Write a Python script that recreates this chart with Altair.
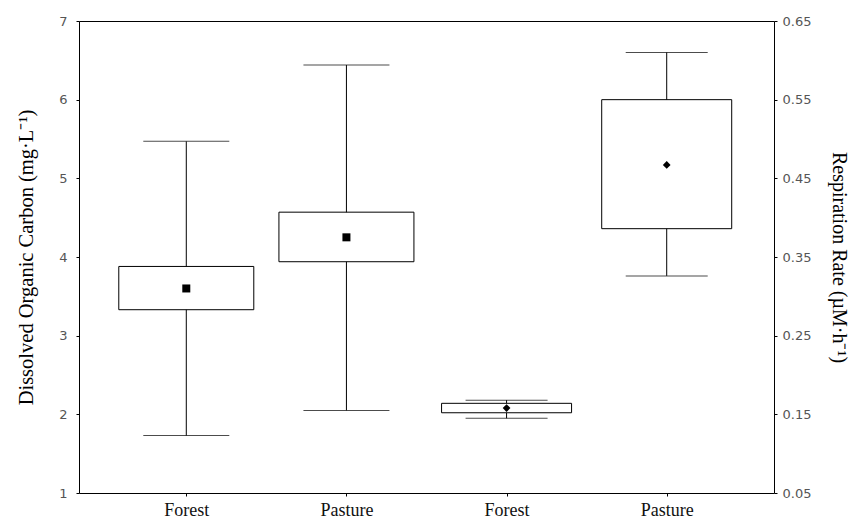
import altair as alt
import pandas as pd

# ---- data ----
categories = ["Forest", "Pasture"]

doc_whisker_low = [1.73, 2.05]
doc_box_low = [3.33, 3.94]
doc_mean = [3.60, 4.25]
doc_box_high = [3.88, 4.57]
doc_whisker_high = [5.47, 6.44]

resp_whisker_low = [0.145, 0.326]
resp_box_low = [0.152, 0.386]
resp_mean = [0.158, 0.467]
resp_box_high = [0.164, 0.550]
resp_whisker_high = [0.168, 0.610]

left_ticks = [1, 2, 3, 4, 5, 6, 7]
right_ticks = [0.05, 0.15, 0.25, 0.35, 0.45, 0.55, 0.65]

doc_keys = [c + " DOC" for c in categories]
resp_keys = [c + " Resp" for c in categories]
order = doc_keys + resp_keys

doc = pd.DataFrame({"key": doc_keys, "wlo": doc_whisker_low, "qlo": doc_box_low,
                    "mean": doc_mean, "qhi": doc_box_high, "whi": doc_whisker_high})
resp = pd.DataFrame({"key": resp_keys, "wlo": resp_whisker_low, "qlo": resp_box_low,
                     "mean": resp_mean, "qhi": resp_box_high, "whi": resp_whisker_high})

SERIF = "Liberation Serif"
SANS = "DejaVu Sans"

x_enc = alt.X("key:N", sort=order,
              scale=alt.Scale(type="point", padding=0.67, domain=order),
              axis=alt.Axis(title=None, labelExpr="split(datum.label, ' ')[0]",
                            labelAngle=0, labelFont=SERIF, labelFontSize=18,
                            labelColor="#111", tickSize=3, labelPadding=5,
                            domain=False, tickColor="black"))

left_axis = alt.Axis(title="Dissolved Organic Carbon  (mg·L⁻¹)", values=left_ticks,
                     orient="left", tickSize=3, labelPadding=9, labelFont=SANS,
                     labelFontSize=13, labelColor="#555", titleFont=SERIF,
                     titleFontSize=20.5, titleFontWeight="normal", titleColor="black",
                     titlePadding=22, domain=False, grid=False, tickColor="black")
right_axis = alt.Axis(title="Respiration Rate (µM·h⁻¹)", values=right_ticks, format=".2f",
                      orient="right", tickSize=3, labelPadding=5, labelFont=SANS,
                      labelFontSize=13, labelColor="#555", titleFont=SERIF,
                      titleFontSize=20, titleFontWeight="normal", titleColor="black",
                      titlePadding=18, domain=False, grid=False, tickColor="black")

left_scale = alt.Scale(domain=[1, 7], nice=False, zero=False)
right_scale = alt.Scale(domain=[0.05, 0.65], nice=False, zero=False)


def box_layers(df, scale, axis, box_w, cap_w, shape, msize):
    base = alt.Chart(df)
    whisk = base.mark_rule(color="black", strokeWidth=1).encode(
        x=x_enc, y=alt.Y("wlo:Q", scale=scale, axis=axis), y2="whi:Q")
    box = base.mark_bar(size=box_w, fill="white", stroke="black", strokeWidth=1).encode(
        x=x_enc, y=alt.Y("qlo:Q", scale=scale, axis=axis), y2="qhi:Q")
    cap_lo = base.mark_tick(size=cap_w, thickness=1, color="black").encode(
        x=x_enc, y=alt.Y("wlo:Q", scale=scale, axis=axis))
    cap_hi = base.mark_tick(size=cap_w, thickness=1, color="black").encode(
        x=x_enc, y=alt.Y("whi:Q", scale=scale, axis=axis))
    pt = base.mark_point(shape=shape, filled=True, size=msize, color="black", opacity=1).encode(
        x=x_enc, y=alt.Y("mean:Q", scale=scale, axis=axis))
    return alt.layer(whisk, box, cap_lo, cap_hi, pt)


left = box_layers(doc, left_scale, left_axis, 135, 86, "square", 64)
right = box_layers(resp, right_scale, right_axis, 130, 82, "diamond", 60)

chart = alt.layer(left, right).resolve_scale(y="independent").properties(
    width=695, height=472,
    autosize=alt.AutoSizeParams(type="none"),
    padding={"left": 71, "top": 13, "right": 77, "bottom": 26},
    background="white",
).configure_view(stroke="black", strokeWidth=1)

chart.save("out.html", embed_options={"renderer": "svg", "actions": False})
